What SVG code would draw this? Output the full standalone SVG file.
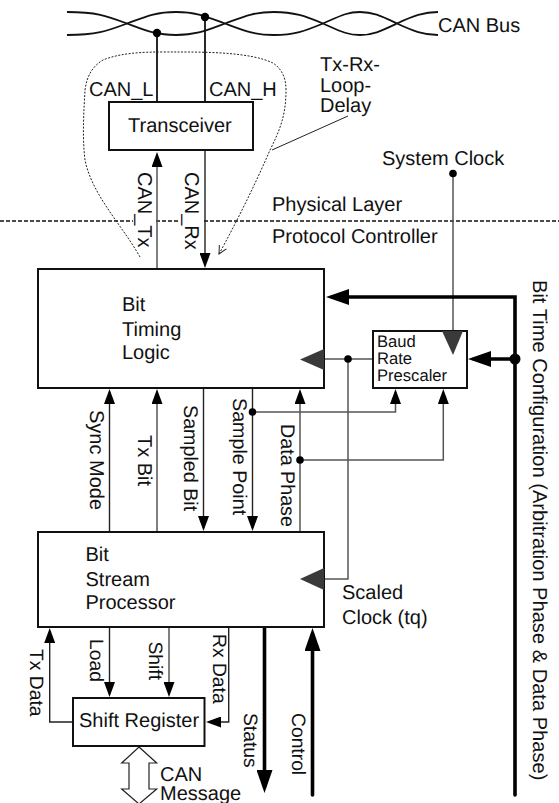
<svg xmlns="http://www.w3.org/2000/svg" width="559" height="803" viewBox="0 0 559 803">
<style>
text{font-family:"Liberation Sans",Arial,sans-serif;font-size:20px;fill:#111;text-rendering:geometricPrecision}
.s{font-size:16.6px}
.r1{font-size:19.7px}
.r2{font-size:19.3px}
.r3{font-size:20.1px}
.box{fill:#fff;stroke:#111;stroke-width:2}
.c{fill:none;stroke:#222;stroke-width:1.4}
.k{fill:none;stroke:#555;stroke-width:1.5}
.t{fill:none;stroke:#000;stroke-width:3.6;stroke-linecap:round}
.b{fill:none;stroke:#111;stroke-width:1.8}
.clk{fill:#3a3a3a}
.dot{fill:#000}
</style>
<defs>
<marker id="a" markerUnits="userSpaceOnUse" markerWidth="15" markerHeight="11" refX="12" refY="5.5" orient="auto"><path d="M0 0L15 5.5L0 11Z" fill="#000"/></marker>
<marker id="A" markerUnits="userSpaceOnUse" markerWidth="23" markerHeight="16" refX="17" refY="8" orient="auto"><path d="M0 0L23 8L0 16Z" fill="#000"/></marker>
<marker id="o" markerUnits="userSpaceOnUse" markerWidth="10" markerHeight="10" refX="9" refY="5" orient="auto"><path d="M1 1L9 5L1 9" fill="none" stroke="#222" stroke-width="1"/></marker>
</defs>

<g id="connectors">
<path class="b" d="M67 12C97 12 107 16 127 23.500C147 31 156 35 176 35C196 35 205 31 225 23.500C245 16 254 12 274 12C294 12 305 16 323 23.500C340 31 347 35 360 35C373 35 381 31 397 23.500C413 16 424 12 438 12"/>
<path class="b" d="M67 35C97 35 107 31 127 23.500C147 16 156 12 176 12C196 12 205 16 225 23.500C245 31 254 35 274 35C294 35 305 31 323 23.500C340 16 347 12 360 12C373 12 381 16 397 23.500C413 31 424 35 438 35"/>
<path class="b" d="M157 33V102M205 17V102"/>
<circle class="dot" cx="157" cy="33" r="4.200"/>
<circle class="dot" cx="205" cy="17" r="4.200"/>
<path d="M0 221H559" fill="none" stroke="#111" stroke-width="1.4" stroke-dasharray="4 2"/>
<rect x="133" y="216" width="23" height="10" fill="#fff"/>
<rect x="180" y="216" width="24" height="10" fill="#fff"/>
<path d="M140 257C122 225 92 195 85 160C82 135 84 110 85 90C87 75 93 66 103 60C125 51 155 52 177 52C205 52 250 52 273 63C282 69 286 78 286 90C286 115 280 130 270 150C255 185 235 225 219 254" fill="none" stroke="#222" stroke-width="1" stroke-dasharray="2 1.500" marker-end="url(#o)"/>
<path d="M272 150L348 116" fill="none" stroke="#222" stroke-width="1"/>
<path class="k" d="M157 268V155" marker-end="url(#a)"/>
<path class="c" d="M205 150V265" marker-end="url(#a)"/>
<path class="k" d="M453 174V331"/>
<circle class="dot" cx="453" cy="173.500" r="3.800"/>
<path class="t" d="M515 795V297H332" marker-end="url(#A)"/>
<path class="t" d="M515 359H474" marker-end="url(#A)"/>
<circle class="dot" cx="515" cy="359" r="5.500"/>
<path class="k" d="M324 359H373"/>
<path class="k" d="M348 359V579H324"/>
<circle class="dot" cx="348" cy="359" r="3.800"/>
<path class="c" d="M109.500 532V392" marker-end="url(#a)"/>
<path class="k" d="M157 532V392" marker-end="url(#a)"/>
<path class="c" d="M203.500 388V528" marker-end="url(#a)"/>
<path class="c" d="M252.500 388V528" marker-end="url(#a)"/>
<path class="k" d="M252.500 412H395.500V392" marker-end="url(#a)"/>
<circle class="dot" cx="252.500" cy="412" r="3.800"/>
<path class="k" d="M300 532V392" marker-end="url(#a)"/>
<path class="k" d="M300 460H443.300V392" marker-end="url(#a)"/>
<circle class="dot" cx="300" cy="460" r="3.800"/>
<path class="c" d="M73 722H49.700V631" marker-end="url(#a)"/>
<path class="c" d="M109.500 627V694" marker-end="url(#a)"/>
<path class="k" d="M169 627V694" marker-end="url(#a)"/>
<path class="c" d="M228.700 627V722H209" marker-end="url(#a)"/>
<path class="t" d="M264.500 628V787" marker-end="url(#A)"/>
<path class="t" d="M312.500 795V634" marker-end="url(#A)"/>
<path d="M139 747L156.700 763H149V789L156.700 789L139 804L121.700 789H129V763H121.700Z" fill="#fff" stroke="#222" stroke-width="1.200"/>
</g>

<g id="transceiver"><rect class="box" x="109" y="102" width="144" height="48"/><text x="128" y="132">Transceiver</text></g>
<g id="bit-timing-logic"><rect class="box" x="38" y="269" width="286" height="119"/><polygon class="clk" points="300,359.500 324,349 324,370"/><text x="122" y="311">Bit</text><text x="122" y="336">Timing</text><text x="122" y="359">Logic</text></g>
<g id="baud-rate-prescaler"><rect class="box" x="373" y="331" width="94" height="57"/><polygon class="clk" points="442,331 463,331 453,355"/><text class="s" x="377" y="347">Baud</text><text class="s" x="377" y="364">Rate</text><text class="s" x="377" y="381">Prescaler</text></g>
<g id="bit-stream-processor"><rect class="box" x="38" y="532" width="286" height="95"/><polygon class="clk" points="300,579 324,568 324,590"/><text x="85.500" y="561">Bit</text><text x="85.500" y="586">Stream</text><text x="85.500" y="609">Processor</text></g>
<g id="shift-register"><rect class="box" x="73" y="698" width="131.500" height="48"/><text x="79" y="727">Shift Register</text></g>

<g id="labels">
<text x="438" y="32">CAN Bus</text>
<text x="89" y="96">CAN_L</text>
<text x="209" y="96">CAN_H</text>
<text x="320" y="71">Tx-Rx-</text><text x="320" y="92">Loop-</text><text x="320" y="112">Delay</text>
<text x="382" y="165">System Clock</text>
<text x="272" y="211">Physical Layer</text>
<text x="272" y="243">Protocol Controller</text>
<text x="342" y="599">Scaled</text><text x="342" y="624">Clock (tq)</text>
<text x="160" y="781">CAN</text><text x="160" y="800">Message</text>
<text transform="translate(137.500 172) rotate(90)">CAN_Tx</text>
<text transform="translate(184.500 172) rotate(90)">CAN_Rx</text>
<text transform="translate(90.300 410) rotate(90)">Sync Mode</text>
<text transform="translate(138.300 435) rotate(90)">Tx Bit</text>
<text class="r1" transform="translate(184.300 405) rotate(90)">Sampled Bit</text>
<text class="r1" transform="translate(232.700 398) rotate(90)">Sample Point</text>
<text class="r1" transform="translate(281 424) rotate(90)">Data Phase</text>
<text class="r2" transform="translate(30.300 649) rotate(90)">Tx Data</text>
<text class="r2" transform="translate(90 639) rotate(90)">Load</text>
<text class="r2" transform="translate(149.300 641.500) rotate(90)">Shift</text>
<text class="r2" transform="translate(212.700 634) rotate(90)">Rx Data</text>
<text class="r2" transform="translate(244 713) rotate(90)">Status</text>
<text class="r2" transform="translate(292 713) rotate(90)">Control</text>
<text class="r3" transform="translate(532.700 280) rotate(90)">Bit Time Configuration (Arbitration Phase &amp; Data Phase)</text>
</g>
</svg>
